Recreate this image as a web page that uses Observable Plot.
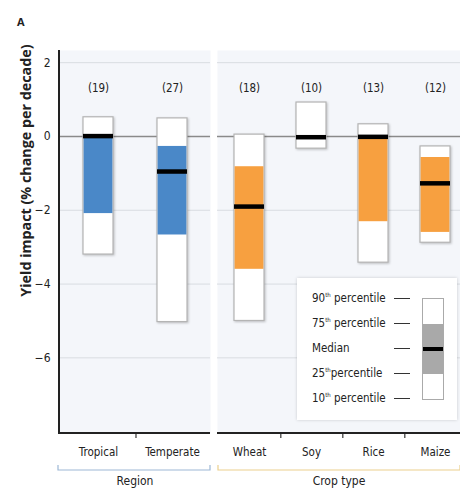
<!DOCTYPE html>
<html><head><meta charset="utf-8">
<script src="https://cdn.jsdelivr.net/npm/d3@7"></script>
<script src="https://cdn.jsdelivr.net/npm/@observablehq/plot@0.6"></script>
<style>
body{margin:0;background:#fff;}
#wrap{position:relative;width:460px;height:490px;overflow:hidden;font-family:"Liberation Sans Narrow","DejaVu Sans Condensed",sans-serif;color:#222;}
#left,#right{position:absolute;top:0;}
#left{left:0;} #right{left:213px;}
#tag{position:absolute;left:17px;top:14px;font:bold 11px "Open Sans",sans-serif;}
#legend{position:absolute;left:297px;top:278px;width:160px;height:142px;background:#fff;box-shadow:0 0 3px rgba(0,0,0,0.18);font-size:11.5px;}
#legend .lab{position:absolute;left:15px;transform:translateY(-50%);white-space:nowrap;}
#legend sup{font-size:6px;vertical-align:5px;}
#legend .dash{position:absolute;left:97px;width:16px;height:1.3px;background:#333;}
#legend .box{position:absolute;left:125px;top:20px;width:20px;height:100px;border:1px solid #aaa;background:#fff;}
#legend .iqr{position:absolute;left:0;width:20px;top:25px;height:50px;background:#a9a9a9;}
#legend .med{position:absolute;left:0;width:20px;top:48px;height:4px;background:#000;}
g[aria-description="box"] rect{filter:drop-shadow(1px 1px 1px rgba(0,0,0,0.22));}
</style></head>
<body><div id="wrap">
<div id="tag">A</div>
<div id="left"></div>
<div id="right"></div>
<div id="legend"></div>
</div>
<script>
// ---- data ----
const regions = ["Tropical", "Temperate"];
const regionCounts = [19, 27];
const regionP10 = [-3.2, -5.03];
const regionP25 = [-2.09, -2.67];
const regionMedian = [0.01, -0.95];
const regionP75 = [-0.05, -0.27];
const regionP90 = [0.52, 0.49];

const crops = ["Wheat", "Soy", "Rice", "Maize"];
const cropCounts = [18, 10, 13, 12];
const cropP10 = [-5.0, -0.33, -3.42, -2.88];
const cropP25 = [-3.6, -0.05, -2.31, -2.6];
const cropMedian = [-1.9, -0.02, -0.01, -1.27];
const cropP75 = [-0.82, 0.0, -0.05, -0.57];
const cropP90 = [0.05, 0.92, 0.33, -0.27];

const yTicks = [2, 0, -2, -4, -6];
const yDomain = [-8.05, 2.33];
const legendLabels = [["90", "th", " percentile"], ["75", "th", " percentile"], ["Median", "", ""], ["25", "th", "percentile"], ["10", "th", " percentile"]];

const FONT = '"Liberation Sans Narrow","DejaVu Sans Condensed",sans-serif';

function panel(o) {
  const rows = o.names.map((name, i) => ({name, n: o.counts[i], p10: o.p10[i], p25: o.p25[i], med: o.med[i], p75: o.p75[i], p90: o.p90[i]}));
  const L = o.width - o.marginLeft - o.marginRight;
  const step = L / (o.names.length - o.pi + 2 * o.po);
  const lines = (index, scales, values, dims) => {
    const {width, height, marginLeft, marginRight, marginTop, marginBottom} = dims;
    const y0 = height - marginBottom;
    const g = d3.create("svg:g");
    g.append("path")
      .attr("d", o.leftAxis ? `M${marginLeft},${marginTop}V${y0}H${width - marginRight}` : `M${marginLeft},${y0}H${width - marginRight}`)
      .attr("fill", "none").attr("stroke", "#222").attr("stroke-width", 2);
    const x0 = marginLeft + o.bracketInset, x1 = width - marginRight;
    g.append("path")
      .attr("d", `M${x0},${y0 + 32}V${y0 + 37}H${x1}V${y0 + 32}`)
      .attr("fill", "none").attr("stroke", o.bracketColor).attr("stroke-width", 1.2);
    return g.node();
  };
  const marks = [
    Plot.frame({fill: "#f4f6fa", stroke: null}),
    Plot.gridY(yTicks.filter(d => d !== 0), {stroke: "#d9dce1", strokeOpacity: 1, strokeWidth: 1}),
    Plot.ruleY([0], {stroke: "#8a8a8a", strokeWidth: 1.4}),
    Plot.barY(rows, {x: "name", y1: "p10", y2: "p90", fill: "#fff", stroke: "#b4b4b4", strokeWidth: 1.2, ariaDescription: "box"}),
    Plot.barY(rows, {x: "name", y1: "p25", y2: "p75", fill: o.color, insetLeft: 0.6, insetRight: 0.6}),
    Plot.tickY(rows, {x: "name", y: "med", stroke: "#000", strokeWidth: 4.5}),
    Plot.text(rows, {x: "name", text: d => `(${d.n})`, frameAnchor: "top", dy: 33, fontSize: 11.5, fill: "#222"}),
    Plot.axisX({tickSize: 0, tickPadding: 14, fontSize: 11.5, label: null, fill: "#222"}),
    Plot.ruleX(o.names.slice(0, -1), {x: d => d, dx: step / 2, y1: yDomain[0], y2: yDomain[0], insetBottom: -5, stroke: "#333", strokeWidth: 1.2}),
    Plot.text([o.group], {frameAnchor: "bottom", dy: 51, fontSize: 12, fill: "#222"}),
    lines
  ];
  if (o.leftAxis) {
    marks.push(Plot.axisY(yTicks, {tickSize: 0, tickPadding: 9, fontSize: 12, label: null, fill: "#222", tickFormat: d => d < 0 ? "\u2212" + (-d) : String(d)}));
    marks.push(Plot.text([o.yLabel], {frameAnchor: "top-left", rotate: -90, textAnchor: "end", dx: -39, dy: -6, fontSize: 14.3, fontWeight: "bold", fontFamily: '"Open Sans",sans-serif', fill: "#222"}));
  }
  return Plot.plot({
    width: o.width, height: 490,
    marginTop: 50, marginBottom: 57, marginLeft: o.marginLeft, marginRight: o.marginRight,
    style: {fontFamily: FONT, background: "transparent", overflow: "visible"},
    x: {type: "band", domain: o.names, paddingInner: o.pi, paddingOuter: o.po, align: o.align, axis: null},
    y: {domain: yDomain, axis: null},
    marks
  });
}

document.getElementById("left").append(panel({
  names: regions, counts: regionCounts, p10: regionP10, p25: regionP25, med: regionMedian, p75: regionP75, p90: regionP90,
  color: "#4a88c8", group: "Region", bracketColor: "#9db8d6", bracketInset: -1,
  width: 213, marginLeft: 59, marginRight: 3, pi: 0.6, po: 0.307, align: 0.5, leftAxis: true,
  yLabel: "Yield impact (% change per decade)"
}));
document.getElementById("right").append(panel({
  names: crops, counts: cropCounts, p10: cropP10, p25: cropP25, med: cropMedian, p75: cropP75, p90: cropP90,
  color: "#f7a040", group: "Crop type", bracketColor: "#ecd08e", bracketInset: 1,
  width: 247, marginLeft: 4, marginRight: 0, pi: 0.52, po: 0.2, align: 0.64, leftAxis: false
}));

// legend
const lg = d3.select("#legend");
legendLabels.forEach(([a, s, b], i) => {
  const y = 20 + i * 25;
  const lab = lg.append("div").attr("class", "lab").style("top", y + "px");
  lab.append("span").text(a);
  if (s) lab.append("sup").text(s);
  lab.append("span").text(b);
  lg.append("div").attr("class", "dash").style("top", (y - 0.5) + "px");
});
const bx = lg.append("div").attr("class", "box");
bx.append("div").attr("class", "iqr");
bx.append("div").attr("class", "med");
</script>
</body></html>
